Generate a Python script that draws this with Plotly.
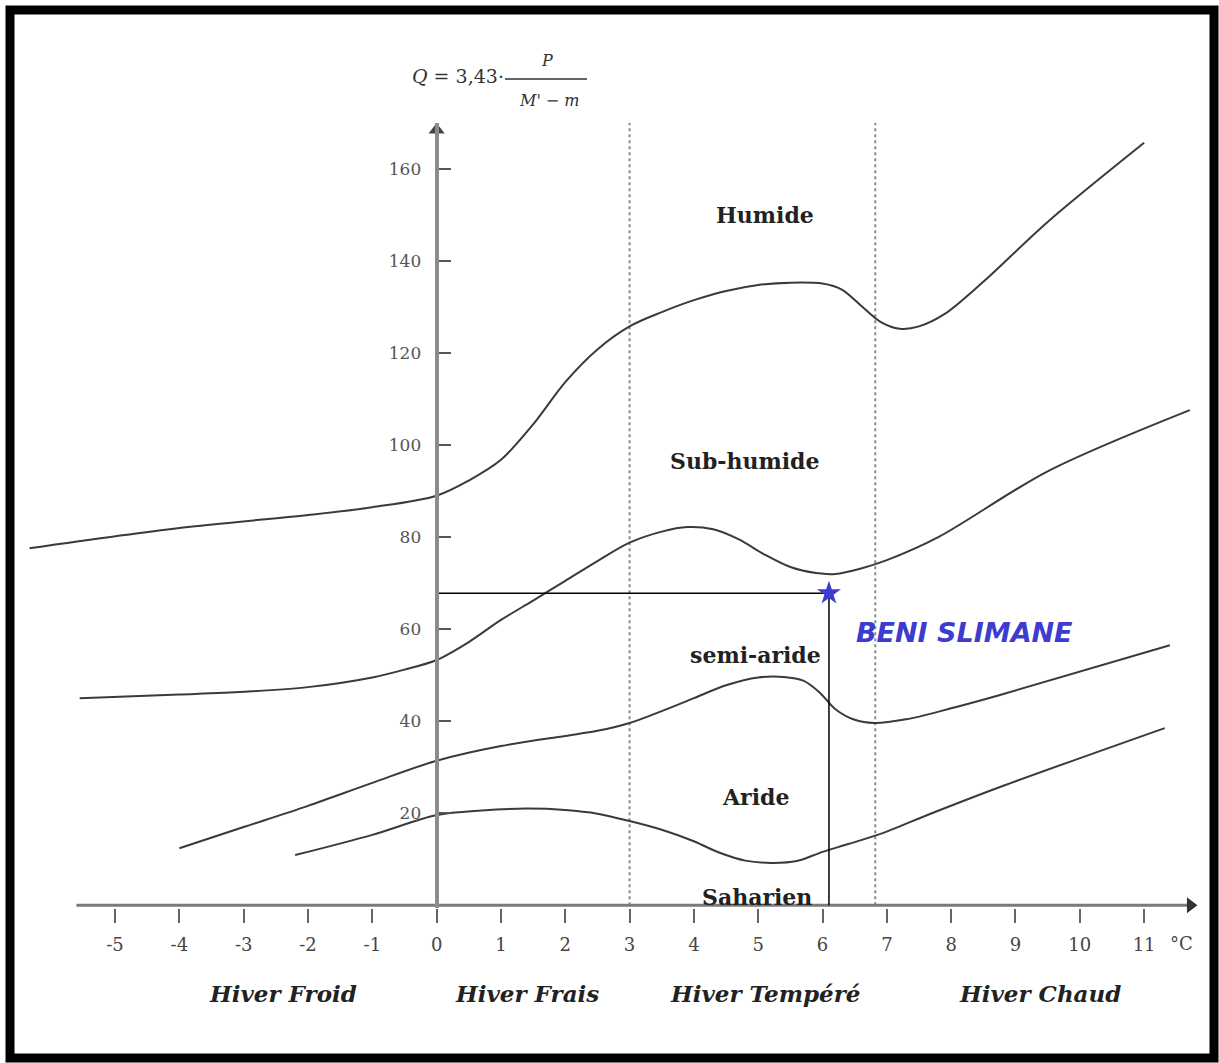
import plotly.graph_objects as go

# ---------------- data (read from the climagramme) ----------------
# limit Humide / Sub-humide
humide_x = [-6.33, -4.0, -2.0, -1.0, 0.0, 0.5, 1.0, 1.5, 2.0, 2.5, 3.0, 3.5, 4.0, 4.5, 5.0, 5.5, 6.0, 6.3, 6.6, 6.9, 7.2, 7.5, 7.9, 8.5, 9.5, 11.0]
humide_q = [77.6, 82.0, 84.8, 86.5, 89.0, 92.3, 96.8, 104.5, 113.7, 120.8, 125.8, 128.9, 131.5, 133.5, 134.8, 135.3, 135.1, 133.8, 130.3, 126.8, 125.3, 125.8, 128.5, 135.5, 148.5, 165.7]
# limit Sub-humide / semi-aride
subhum_x = [-5.55, -4.0, -3.0, -2.0, -1.0, -0.5, 0.0, 0.5, 1.0, 1.5, 2.0, 2.5, 3.0, 3.5, 3.9, 4.3, 4.7, 5.1, 5.5, 5.9, 6.2, 6.6, 7.0, 7.8, 9.5, 11.71]
subhum_q = [45.0, 45.8, 46.4, 47.4, 49.5, 51.2, 53.3, 57.2, 62.0, 66.2, 70.5, 74.8, 78.8, 81.2, 82.2, 81.7, 79.5, 76.2, 73.5, 72.2, 72.0, 73.2, 75.0, 80.0, 94.3, 107.6]
# limit semi-aride / Aride
semiar_x = [-4.0, -3.0, -2.0, -1.0, 0.0, 1.0, 2.0, 2.5, 3.0, 3.5, 4.0, 4.5, 5.0, 5.4, 5.7, 5.95, 6.2, 6.5, 6.8, 7.3, 8.0, 8.76, 11.4]
semiar_q = [12.4, 17.0, 21.6, 26.6, 31.4, 34.6, 36.8, 37.9, 39.6, 42.2, 45.0, 47.8, 49.5, 49.6, 48.8, 46.3, 42.6, 40.3, 39.6, 40.4, 42.8, 45.7, 56.5]
# limit Aride / Saharien
aride_x = [-2.2, -1.0, 0.0, 0.7, 1.4, 2.0, 2.5, 3.0, 3.5, 4.0, 4.4, 4.8, 5.2, 5.6, 6.0, 6.4, 6.9, 7.7, 8.76, 11.32]
aride_q = [10.9, 15.3, 19.6, 20.6, 21.0, 20.7, 19.9, 18.3, 16.4, 13.9, 11.4, 9.7, 9.2, 9.6, 11.6, 13.3, 15.5, 20.0, 25.7, 38.5]

winter_limits = [3.0, 6.82]          # dotted verticals (m, °C)

station_name = "BENI SLIMANE"
station_m = 6.1
station_q = 67.8

zone_labels = ["Humide", "Sub-humide", "semi-aride", "Aride", "Saharien"]
zone_x = [5.10, 4.79, 4.95, 4.95, 4.98]
zone_q = [150.0, 96.5, 54.3, 23.5, 1.9]

winter_labels = ["Hiver Froid", "Hiver Frais", "Hiver Tempéré", "Hiver Chaud"]
winter_x = [-2.39, 1.40, 5.12, 9.38]

x_ticks = list(range(-5, 12))
y_ticks = [20, 40, 60, 80, 100, 120, 140, 160]

# ---------------- layout geometry ----------------
W, H = 1219, 1063
ML, MR, MT, MB = 25, 17, 123, 155
X_RANGE = [-6.4, 11.9]
Y_RANGE = [-0.6, 170]
X_AXIS_START, X_AXIS_END = -5.6, 11.72


def pxx(px):
    return (px - ML) / (W - ML - MR)


def pxy(py):
    return (H - MB - py) / (H - MT - MB)


curve_color = "#3a3a3a"
blue = "#3c3cd0"

fig = go.Figure()

# dotted winter limits
for xv in winter_limits:
    fig.add_trace(go.Scatter(x=[xv, xv], y=[0, Y_RANGE[1]], mode="lines",
                             line=dict(color="#8a8a8a", width=2, dash="dot"),
                             hoverinfo="skip", showlegend=False))

# x axis line and arrows
fig.add_trace(go.Scatter(x=[X_AXIS_START, X_AXIS_END], y=[0, 0], mode="lines",
                         line=dict(color="#7a7a7a", width=3), hoverinfo="skip", showlegend=False))
fig.add_trace(go.Scatter(x=[X_AXIS_END], y=[0], mode="markers", cliponaxis=False,
                         marker=dict(symbol="triangle-right", size=14, color="#333"),
                         hoverinfo="skip", showlegend=False))
fig.add_trace(go.Scatter(x=[0], y=[Y_RANGE[1] - 1.5], mode="markers", cliponaxis=False,
                         marker=dict(symbol="triangle-up", size=14, color="#444"),
                         hoverinfo="skip", showlegend=False))

# bioclimatic limits
for cx, cq in [(humide_x, humide_q), (subhum_x, subhum_q), (semiar_x, semiar_q), (aride_x, aride_q)]:
    fig.add_trace(go.Scatter(x=cx, y=cq, mode="lines",
                             line=dict(color=curve_color, width=2, shape="spline", smoothing=0.9),
                             hoverinfo="skip", showlegend=False))

# station guide lines and marker
fig.add_trace(go.Scatter(x=[0, station_m], y=[station_q, station_q], mode="lines",
                         line=dict(color="black", width=1.5), hoverinfo="skip", showlegend=False))
fig.add_trace(go.Scatter(x=[station_m, station_m], y=[station_q, 0], mode="lines",
                         line=dict(color="black", width=1.5), hoverinfo="skip", showlegend=False))
fig.add_trace(go.Scatter(x=[station_m], y=[station_q], mode="markers", cliponaxis=False,
                         marker=dict(symbol="star", size=18, color=blue),
                         name=station_name, showlegend=False))

annotations = []
for lab, xv, qv in zip(zone_labels, zone_x, zone_q):
    annotations.append(dict(x=xv, y=qv, xref="x", yref="y", text="<b>%s</b>" % lab,
                            xanchor="center", yanchor="middle",
                            showarrow=False, font=dict(family="DejaVu Serif", size=22, color="#222")))
for lab, xv in zip(winter_labels, winter_x):
    annotations.append(dict(x=xv, y=pxy(993), xref="x", yref="paper", text="<b><i>%s</i></b>" % lab,
                            xanchor="center", yanchor="middle",
                            showarrow=False, font=dict(family="DejaVu Serif", size=23, color="#222")))
annotations.append(dict(x=8.21, y=59.3, xref="x", yref="y", text="<b><i>%s</i></b>" % station_name,
                        xanchor="center", yanchor="middle",
                        showarrow=False, font=dict(family="DejaVu Sans", size=27, color=blue)))
annotations.append(dict(x=pxx(1181), y=pxy(943), xref="paper", yref="paper", text="°C",
                        xanchor="center", yanchor="middle",
                        showarrow=False, font=dict(family="DejaVu Serif", size=18, color="#444")))
# formula  Q = 3,43 · P / (M' - m)
annotations.append(dict(x=pxx(506), y=pxy(76), xref="paper", yref="paper", xanchor="right",
                        yanchor="middle", text="<i>Q</i> = 3,43·", showarrow=False,
                        font=dict(family="DejaVu Serif", size=19, color="#333")))
annotations.append(dict(x=pxx(547), y=pxy(60), xref="paper", yref="paper", text="<i>P</i>",
                        xanchor="center", yanchor="middle",
                        showarrow=False, font=dict(family="DejaVu Serif", size=16, color="#333")))
annotations.append(dict(x=pxx(549), y=pxy(100), xref="paper", yref="paper", text="<i>M' − m</i>",
                        xanchor="center", yanchor="middle",
                        showarrow=False, font=dict(family="DejaVu Serif", size=16, color="#333")))

shapes = [
    dict(type="line", xref="paper", yref="paper", x0=pxx(505), x1=pxx(587), y0=pxy(79), y1=pxy(79),
         line=dict(color="#333", width=1.5)),
    dict(type="rect", xref="paper", yref="paper", x0=pxx(10), x1=pxx(1214), y0=pxy(1058), y1=pxy(10),
         line=dict(color="black", width=9)),
]

fig.update_layout(
    width=W, height=H,
    margin=dict(l=ML, r=MR, t=MT, b=MB),
    paper_bgcolor="white", plot_bgcolor="white",
    showlegend=False,
    xaxis=dict(range=X_RANGE, tickvals=x_ticks, ticktext=[str(v) for v in x_ticks],
               ticks="outside", ticklen=14, tickwidth=2, tickcolor="#666",
               showline=False, showgrid=False, zeroline=False, ticklabelstandoff=6,
               tickfont=dict(family="DejaVu Serif", size=18, color="#444")),
    yaxis=dict(range=Y_RANGE, tickvals=y_ticks, ticks="inside", ticklen=12, tickwidth=2,
               tickcolor="#555", showline=True, linecolor="#8c8c8c", linewidth=4,
               anchor="free", position=(0 - X_RANGE[0]) / (X_RANGE[1] - X_RANGE[0]),
               showgrid=False, zeroline=False, ticklabelstandoff=10,
               tickfont=dict(family="DejaVu Serif", size=17, color="#555")),
    annotations=annotations,
    shapes=shapes,
)

fig.write_html("out.html", config={"displayModeBar": False},
               post_script="document.body.style.margin='0';")
